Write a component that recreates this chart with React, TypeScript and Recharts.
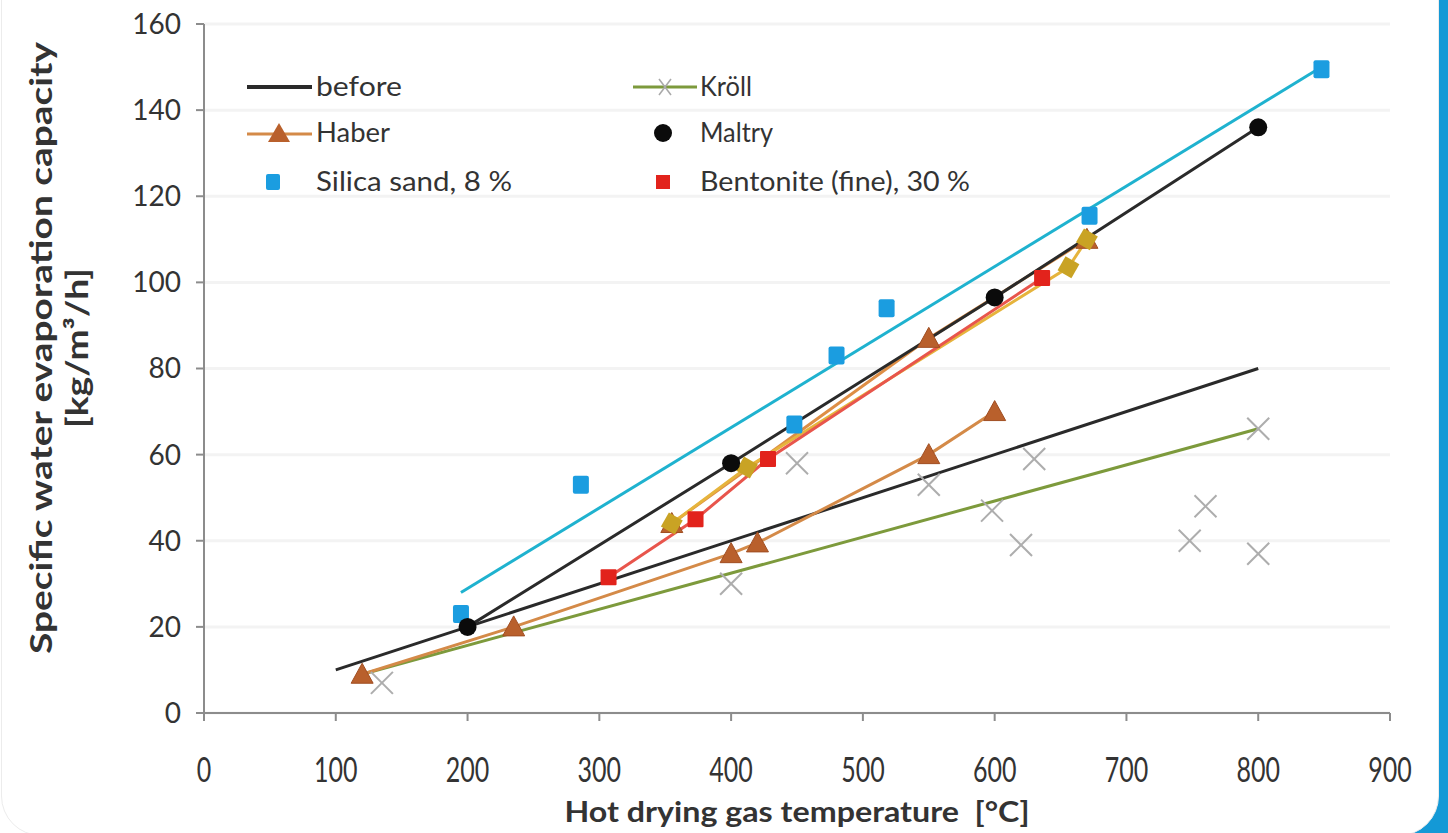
import React from "react";
import { ScatterChart, Scatter, XAxis, YAxis, CartesianGrid } from "recharts";

const xTicks = [0, 100, 200, 300, 400, 500, 600, 700, 800, 900];
const yTicks = [0, 20, 40, 60, 80, 100, 120, 140, 160];

const beforeLine = [{ x: 100, y: 10 }, { x: 800, y: 80 }];
const krollTrend = [{ x: 120, y: 9 }, { x: 800, y: 66 }];
const krollPoints = [
  { x: 135, y: 7 }, { x: 400, y: 30 }, { x: 450, y: 58 }, { x: 550, y: 53 },
  { x: 598, y: 47 }, { x: 620, y: 39 }, { x: 630, y: 59 }, { x: 748, y: 40 },
  { x: 760, y: 48 }, { x: 800, y: 37 }, { x: 800, y: 66 },
];
const haberPoints = [
  { x: 120, y: 9 }, { x: 235, y: 20 }, { x: 400, y: 37 }, { x: 420, y: 39.5 },
  { x: 550, y: 60 }, { x: 600, y: 70 },
];
const haberUpper = [{ x: 355, y: 44 }, { x: 550, y: 87 }, { x: 670, y: 110 }];
const goldPoints = [{ x: 355, y: 44 }, { x: 412, y: 57 }, { x: 656, y: 103.5 }, { x: 670, y: 110 }];
const bentonitePoints = [{ x: 307, y: 31.5 }, { x: 373, y: 45 }, { x: 428, y: 59 }, { x: 636, y: 101 }];
const maltryPoints = [{ x: 200, y: 20 }, { x: 400, y: 58 }, { x: 600, y: 96.5 }, { x: 800, y: 136 }];
const silicaPoints = [
  { x: 195, y: 23 }, { x: 286, y: 53 }, { x: 448, y: 67 }, { x: 480, y: 83 },
  { x: 518, y: 94 }, { x: 672, y: 115.5 }, { x: 848, y: 149.5 },
];
const silicaTrend = [{ x: 195, y: 28 }, { x: 848, y: 150 }];

const FONT = "Lato, 'Noto Sans', sans-serif";
const TXT = "#333333";

const NoDot = () => <g />;
const Triangle = (p: any) => (
  <path d={`M${p.cx},${p.cy - 11} L${p.cx + 11},${p.cy + 9} L${p.cx - 11},${p.cy + 9} Z`} fill="#b9602c" stroke="#a04e22" strokeWidth={1} />
);
const Circle = (p: any) => <circle cx={p.cx} cy={p.cy} r={9} fill="#0b0b0b" />;
const CyanSq = (p: any) => <rect x={p.cx - 8} y={p.cy - 9} width={16} height={18} rx={2} fill="#1b9de0" />;
const RedSq = (p: any) => <rect x={p.cx - 8} y={p.cy - 8} width={16} height={16} rx={1} fill="#e2231c" />;
const GoldSq = (p: any) => (
  <rect x={p.cx - 8} y={p.cy - 8} width={16} height={16} fill="#c9a324" transform={`rotate(30 ${p.cx} ${p.cy})`} />
);
const Cross = (p: any) => (
  <g stroke="#adadad" strokeWidth={2}>
    <line x1={p.cx - 11} y1={p.cy - 11} x2={p.cx + 11} y2={p.cy + 11} />
    <line x1={p.cx - 11} y1={p.cy + 11} x2={p.cx + 11} y2={p.cy - 11} />
  </g>
);

const XTick = (p: any) => {
  const s = String(p.payload.value);
  return (
    <text x={p.x} y={p.y} dy="0.71em" textAnchor="middle" fontFamily={FONT} fontSize={35} fill={TXT}
      textLength={14.5 * s.length} lengthAdjust="spacingAndGlyphs">{s}</text>
  );
};

export default function App() {
  return (
    <div style={{ position: "absolute", left: 0, top: 0, width: 1448, height: 833, overflow: "hidden", background: "#fff" }}>
      <div style={{ position: "absolute", right: 0, top: 0, width: 60, height: 833, background: "#1499d6" }} />
      <div style={{ position: "absolute", left: 1, top: -40, width: 1438, height: 876, background: "#fff", borderRadius: 40, border: "1px solid #ececec", boxSizing: "border-box" }} />
      <div style={{ position: "absolute", left: 0, top: 0 }}>
        <ScatterChart width={1448} height={833} margin={{ top: 24, right: 58, left: 0, bottom: 0 }}>
          <CartesianGrid horizontal vertical={false} stroke="#f3f3f3" strokeWidth={3} />
          <XAxis type="number" dataKey="x" domain={[0, 900]} ticks={xTicks} height={120}
            axisLine={{ stroke: "#8c8c8c", strokeWidth: 2 }} tickLine={{ stroke: "#8c8c8c", strokeWidth: 2 }}
            tickSize={8} tickMargin={36} tick={<XTick />} interval={0} />
          <YAxis type="number" dataKey="y" domain={[0, 160]} ticks={yTicks} width={204}
            axisLine={{ stroke: "#8c8c8c", strokeWidth: 2 }} tickLine={{ stroke: "#8c8c8c", strokeWidth: 2 }}
            tickSize={8} tickMargin={15} interval={0}
            tick={{ fontFamily: FONT, fontSize: 28, fill: TXT }} />
          <Scatter data={beforeLine} line={{ stroke: "#2a2a2a", strokeWidth: 3 }} shape={<NoDot />} isAnimationActive={false} />
          <Scatter data={krollTrend} line={{ stroke: "#7d9a3c", strokeWidth: 3 }} shape={<NoDot />} isAnimationActive={false} />
          <Scatter data={silicaTrend} line={{ stroke: "#1fb2cf", strokeWidth: 3 }} shape={<NoDot />} isAnimationActive={false} />
          <Scatter data={haberPoints} line={{ stroke: "#d48a48", strokeWidth: 3 }} shape={<NoDot />} isAnimationActive={false} />
          <Scatter data={haberUpper} line={{ stroke: "#de8e45", strokeWidth: 3 }} shape={<NoDot />} isAnimationActive={false} />
          <Scatter data={goldPoints} line={{ stroke: "#e6b43c", strokeWidth: 3 }} shape={<NoDot />} isAnimationActive={false} />
          <Scatter data={bentonitePoints} line={{ stroke: "#e8554c", strokeWidth: 3 }} shape={<NoDot />} isAnimationActive={false} />
          <Scatter data={maltryPoints} line={{ stroke: "#2a2a2a", strokeWidth: 3 }} shape={<NoDot />} isAnimationActive={false} />
          <Scatter data={krollPoints} shape={<Cross />} isAnimationActive={false} />
          <Scatter data={haberPoints} shape={<Triangle />} isAnimationActive={false} />
          <Scatter data={haberUpper} shape={<Triangle />} isAnimationActive={false} />
          <Scatter data={goldPoints} shape={<GoldSq />} isAnimationActive={false} />
          <Scatter data={bentonitePoints} shape={<RedSq />} isAnimationActive={false} />
          <Scatter data={silicaPoints} shape={<CyanSq />} isAnimationActive={false} />
          <Scatter data={maltryPoints} shape={<Circle />} isAnimationActive={false} />
        </ScatterChart>
      </div>
      <svg width={1448} height={833} style={{ position: "absolute", left: 0, top: 0, pointerEvents: "none" }}>
        <g fontFamily={FONT} fill={TXT} fontSize={26}>
          <line x1={247} y1={87} x2={312} y2={87} stroke="#2a2a2a" strokeWidth={4} />
          <text x={316} y={96} textLength={86} lengthAdjust="spacingAndGlyphs">before</text>
          <line x1={633} y1={87} x2={697} y2={87} stroke="#7d9a3c" strokeWidth={3} />
          <g stroke="#a9a9a9" strokeWidth={1.5}>
            <line x1={659} y1={79} x2={671} y2={95} />
            <line x1={659} y1={95} x2={671} y2={79} />
          </g>
          <text x={700} y={96} textLength={52} lengthAdjust="spacingAndGlyphs">Kröll</text>
          <line x1={247} y1={134} x2={312} y2={134} stroke="#d48a48" strokeWidth={3} />
          <path d="M279,123 L290,142 L268,142 Z" fill="#b9602c" />
          <text x={316} y={142} textLength={74} lengthAdjust="spacingAndGlyphs">Haber</text>
          <circle cx={663} cy={133} r={9} fill="#0b0b0b" />
          <text x={700} y={142} textLength={73} lengthAdjust="spacingAndGlyphs">Maltry</text>
          <rect x={266} y={174} width={14} height={16} rx={2} fill="#1b9de0" />
          <text x={316} y={191} textLength={196} lengthAdjust="spacingAndGlyphs">Silica sand, 8 %</text>
          <rect x={656} y={175} width={14} height={14} fill="#e2231c" />
          <text x={700} y={191} textLength={270} lengthAdjust="spacingAndGlyphs">Bentonite (fine), 30 %</text>
        </g>
        <g fontFamily={FONT} fill={TXT} fontWeight={700}>
          <text x={797} y={822} textAnchor="middle" fontSize={28} textLength={465} lengthAdjust="spacingAndGlyphs">{"Hot drying gas temperature \u00a0[°C]"}</text>
          <text transform="translate(52,348) rotate(-90)" textAnchor="middle" fontSize={30} textLength={612} lengthAdjust="spacingAndGlyphs">Specific water evaporation capacity</text>
          <text transform="translate(88,348) rotate(-90)" textAnchor="middle" fontSize={30} textLength={160} lengthAdjust="spacingAndGlyphs">[kg/m³/h]</text>
        </g>
      </svg>
    </div>
  );
}
